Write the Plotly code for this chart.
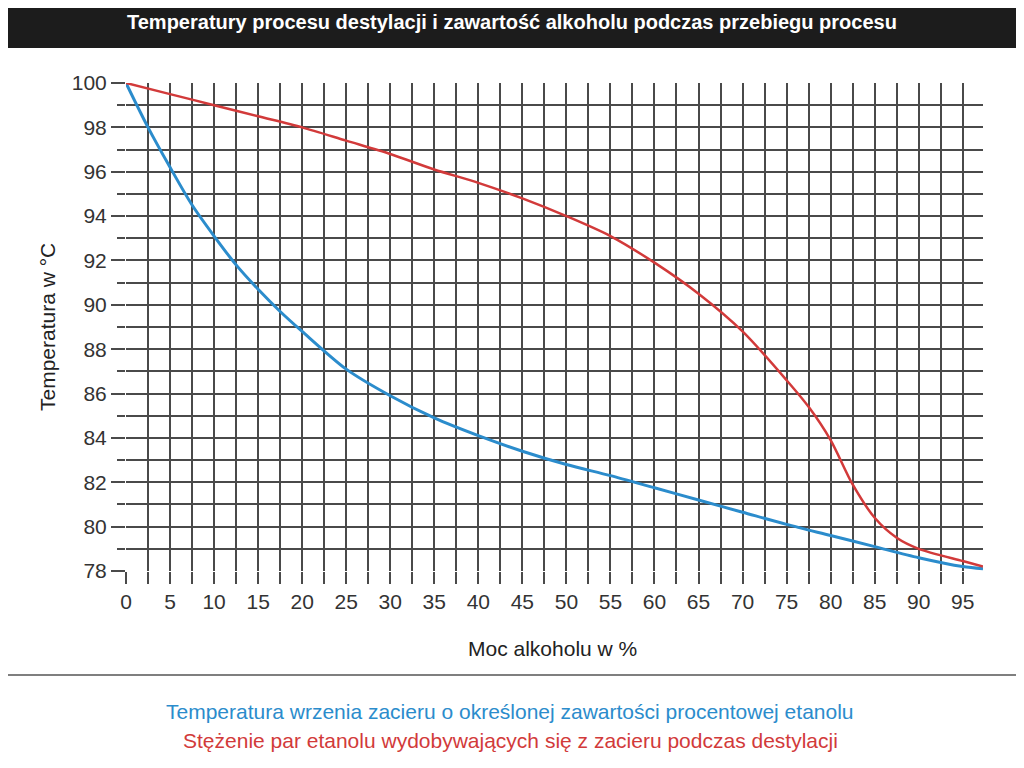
import plotly.graph_objects as go

blue_x = [0, 2.5, 5, 7.5, 10, 12.5, 15, 17.5, 20, 25, 30, 35, 40, 45, 50, 55, 60, 65, 70, 75, 80, 85, 90, 95, 97.3]
blue_y = [100, 98.0, 96.2, 94.5, 93.1, 91.8, 90.7, 89.7, 88.8, 87.1, 85.9, 84.9, 84.1, 83.4, 82.8, 82.3, 81.75, 81.2, 80.65, 80.1, 79.6, 79.1, 78.6, 78.2, 78.1]
red_x = [0, 5, 10, 15, 20, 25, 30, 35, 40, 45, 50, 55, 60, 65, 70, 75, 77.5, 80, 82.5, 85, 87.5, 90, 95, 97.3]
red_y = [100, 99.5, 99.0, 98.5, 98.0, 97.4, 96.8, 96.1, 95.5, 94.8, 94.0, 93.1, 91.9, 90.5, 88.8, 86.6, 85.4, 83.9, 81.9, 80.4, 79.5, 79.0, 78.45, 78.2]
x_ticks = list(range(0, 100, 5))
y_ticks = list(range(78, 101, 2))

title = "Temperatury procesu destylacji i zawartość alkoholu podczas przebiegu procesu"
blue_label = "Temperatura wrzenia zacieru o określonej zawartości procentowej etanolu"
red_label = "Stężenie par etanolu wydobywających się z zacieru podczas destylacji"

OFF = 8
W, H = 1024 - OFF, 768 - OFF
L, R, T, B = 126, 983, 83, 571
def px(x): return (x - L) / (R - L)
def py(y): return (B - y) / (B - T)

fig = go.Figure()
fig.add_trace(go.Scatter(x=blue_x, y=blue_y, mode="lines", line=dict(color="#2b8ccc", width=3, shape="spline", smoothing=0.8), showlegend=False))
fig.add_trace(go.Scatter(x=red_x, y=red_y, mode="lines", line=dict(color="#d23a3a", width=2.5, shape="spline", smoothing=0.8), showlegend=False))

grid = "#4a4a4a"
tf = dict(family="Liberation Sans, Arial", size=21, color="#333")
fig.update_xaxes(range=[0, 97.3], tickvals=x_ticks, showgrid=True, gridcolor=grid, gridwidth=1.5,
                 ticks="outside", ticklen=12, tickcolor=grid, tickwidth=1.5,
                 minor=dict(dtick=2.5, tick0=0, showgrid=True, gridcolor=grid, gridwidth=1.5, ticks="outside", ticklen=12, tickcolor=grid),
                 tickfont=tf, zeroline=False, showline=False)
fig.update_yaxes(range=[78, 100], tickvals=y_ticks, showgrid=True, gridcolor=grid, gridwidth=1.5,
                 ticks="outside", ticklen=14, tickcolor=grid, tickwidth=1.5,
                 minor=dict(dtick=1, tick0=78, showgrid=True, gridcolor=grid, gridwidth=1.5, ticks="outside", ticklen=8, tickcolor=grid),
                 tickfont=tf, zeroline=False, showline=False)

fig.update_layout(width=W, height=H, margin=dict(l=L - OFF, r=1024 - R, t=T - OFF, b=768 - B),
                  paper_bgcolor="white", plot_bgcolor="white",
                  font=dict(family="Liberation Sans, Arial"))

fig.add_shape(type="rect", xref="paper", yref="paper", x0=px(-20), x1=px(1040), y0=py(48), y1=py(-20),
              fillcolor="#1c1c1c", line=dict(width=0), layer="below")
fig.add_shape(type="line", xref="paper", yref="paper", x0=px(0), x1=px(1022), y0=py(675), y1=py(675),
              line=dict(color="#555", width=1.5))

ann = [
    dict(text="<b>" + title + "</b>", x=px(512), y=py(22), size=20, color="white"),
    dict(text="Moc alkoholu w %", x=px(552), y=py(648), size=21, color="#222"),
    dict(text=blue_label, x=px(510), y=py(711), size=21, color="#2b8ccc"),
    dict(text=red_label, x=px(510), y=py(740), size=21, color="#d23a3a"),
]
for a in ann:
    fig.add_annotation(text=a["text"], x=a["x"], y=a["y"], xref="paper", yref="paper", showarrow=False,
                       xanchor="center", yanchor="middle", font=dict(size=a["size"], color=a["color"], family="Liberation Sans, Arial"))
fig.add_annotation(text="Temperatura w °C", x=px(47), y=py(327), xref="paper", yref="paper", showarrow=False,
                   textangle=-90, xanchor="center", yanchor="middle", font=dict(size=21, color="#222", family="Liberation Sans, Arial"))

fig.write_html("out.html")
